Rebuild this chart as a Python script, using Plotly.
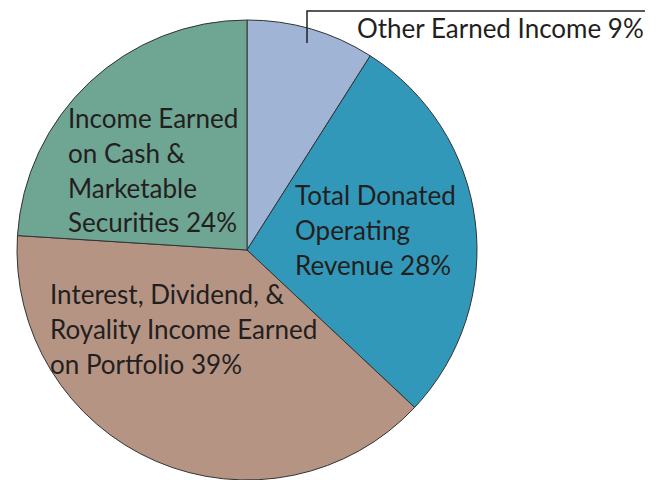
import plotly.graph_objects as go

# Revenue sources, clockwise from 12 o'clock
categories = [
    "Other Earned Income",
    "Total Donated Operating Revenue",
    "Interest, Dividend, & Royality Income Earned on Portfolio",
    "Income Earned on Cash & Marketable Securities",
]
shares = [9, 28, 39, 24]
colors = ["#a0b5d5", "#3298ba", "#b59484", "#6fa593"]

# Wrapped label text for each slice
label_lines = [
    ["Other Earned Income 9%"],
    ["Total Donated", "Operating", "Revenue 28%"],
    ["Interest, Dividend, &", "Royality Income Earned", "on Portfolio 39%"],
    ["Income Earned", "on Cash &", "Marketable", "Securities 24%"],
]

W, H = 664, 480
cx, cy, r = 247, 250, 230  # pie centre and radius in pixels

fig = go.Figure(
    go.Pie(
        labels=categories,
        values=shares,
        sort=False,
        direction="clockwise",
        rotation=0,
        marker=dict(colors=colors, line=dict(color="#333333", width=1)),
        textinfo="none",
        hoverinfo="label+percent",
        showlegend=False,
        domain=dict(x=[(cx - r) / W, (cx + r) / W], y=[(H - cy - r) / H, (H - cy + r) / H]),
    )
)

font = dict(family="Lato, 'Open Sans', sans-serif", size=26, color="#231f20")

# label block placement (pixels): anchor x, centre y of first line, alignment
label_pos = [
    (646, 28, "right"),
    (293, 195, "left"),
    (48, 294, "left"),
    (66, 118, "left"),
]
line_step = 34.8  # pixels between label lines

for lines, (x, y0, al) in zip(label_lines, label_pos):
    for i, txt in enumerate(lines):
        fig.add_annotation(
            x=x / W, y=1 - (y0 + i * line_step) / H, xref="paper", yref="paper",
            xanchor=al, yanchor="middle", align=al,
            text=txt, showarrow=False, font=font,
        )

# leader line for the small top slice
fig.add_shape(
    type="path", xref="paper", yref="paper",
    path=f"M {645 / W} {1 - 11 / H} L {307 / W} {1 - 11 / H} L {307 / W} {1 - 43 / H}",
    line=dict(color="#222222", width=1.5),
)

fig.update_layout(
    width=W, height=H,
    margin=dict(l=0, r=0, t=0, b=0),
    paper_bgcolor="white", plot_bgcolor="white",
)

fig.write_html("out.html")
